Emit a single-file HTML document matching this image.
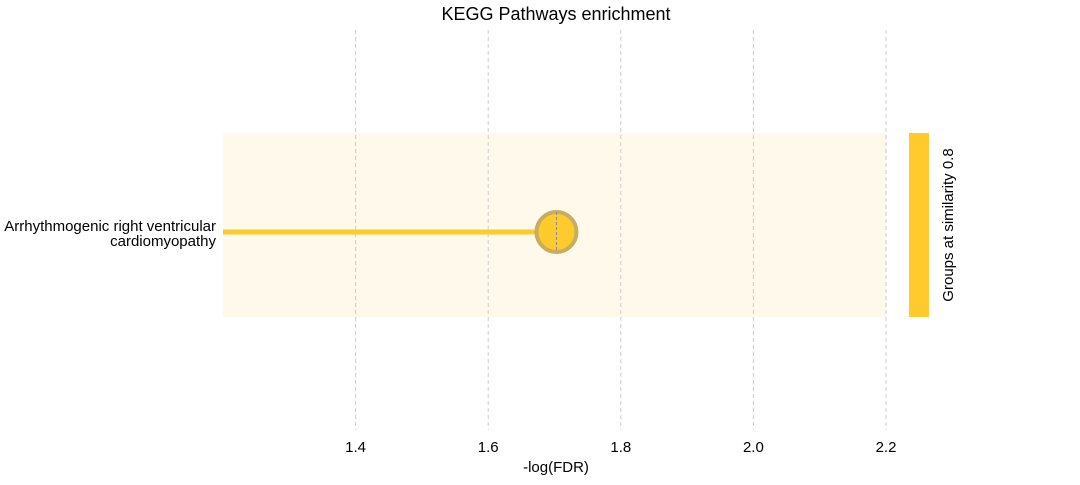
<!DOCTYPE html>
<html><head><meta charset="utf-8"><style>
body{margin:0;background:#fff;font-family:"Liberation Sans",Arial,sans-serif}
</style></head><body>
<svg id="chart" width="1080" height="480" xmlns="http://www.w3.org/2000/svg" font-family="Liberation Sans, Arial, sans-serif">
<text x="556" y="20" font-size="18" text-anchor="middle">KEGG Pathways enrichment</text>
<g id="bands"></g>
<g id="grid"></g>
<g id="marks"></g>
<g id="ticks"></g>
<text x="556" y="472" font-size="15" text-anchor="middle">-log(FDR)</text>
<rect x="909" y="133" width="20" height="184" fill="#ffca2c"/>
<text transform="translate(953,225) rotate(-90)" font-size="15" text-anchor="middle">Groups at similarity 0.8</text>
</svg>
<script>
const categories=["Arrhythmogenic right ventricular|cardiomyopathy"];
const values=[1.703];
const ticks=[1.4,1.6,1.8,2.0,2.2];
const tickLabels=["1.4","1.6","1.8","2.0","2.2"];
const xMin=1.2, xMax=2.2;
const NS="http://www.w3.org/2000/svg";
const x=v=>223+(v-xMin)*(886-223)/(xMax-xMin);
const yc=i=>232+i*184;
function mk(t,a,p){const e=document.createElementNS(NS,t);for(const k in a)e.setAttribute(k,a[k]);p.appendChild(e);return e;}
const bands=document.getElementById('bands'),grid=document.getElementById('grid'),marks=document.getElementById('marks'),tk=document.getElementById('ticks');
categories.forEach((c,i)=>{
 const b=mk('rect',{x:223,y:yc(i)-99,width:x(xMax)-223,height:184,fill:'#fef9ea'},bands);
 
 
});
ticks.forEach((t,i)=>{
 const l=mk('line',{x1:x(t),x2:x(t),y1:30,y2:430,stroke:'#ccc','stroke-dasharray':'4,3','stroke-width':1},grid);
 
 
 const s=mk('text',{x:x(t),y:452,'font-size':15,'text-anchor':'middle'},tk);
 s.textContent=tickLabels[i];
 
 
});
categories.forEach((c,i)=>{
 const y=yc(i);
 const ln=mk('line',{x1:223,x2:x(values[i]),y1:y,y2:y,stroke:'#ffca2c','stroke-width':5},marks);
 
 
 const ci=mk('circle',{cx:x(values[i]),cy:y,r:20,fill:'#ffca2c',stroke:'#c8ad60','stroke-width':4},marks);
 
 
 const d=mk('line',{x1:x(values[i]),x2:x(values[i]),y1:y-20,y2:y+20,stroke:'#8a8a9a','stroke-dasharray':'3,2','stroke-width':1},marks);
 
 
 const parts=c.split('|');
 parts.forEach((p,j)=>{
  const t=mk('text',{x:216,y:y-1+j*15,'font-size':15,'text-anchor':'end'},tk);
  t.textContent=p;
  
  
 });
});
</script>
</body></html>
